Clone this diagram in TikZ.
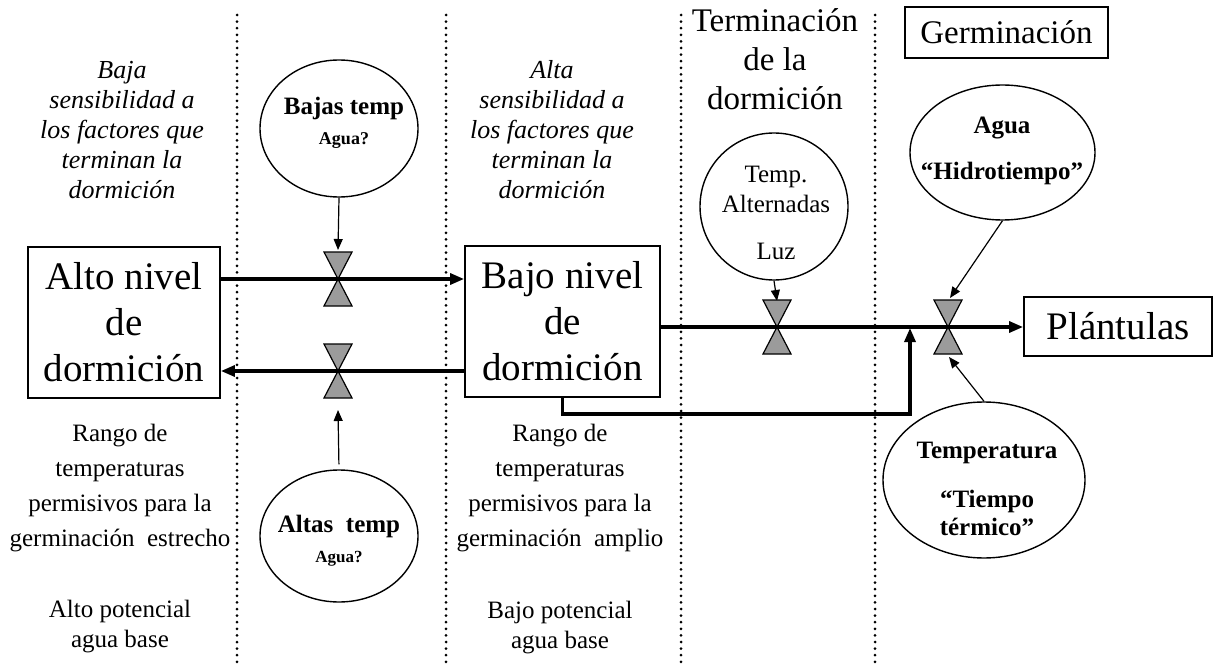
\documentclass[tikz,border=0pt]{standalone}
\usepackage{fontspec}
\setmainfont{Liberation Serif}
\usetikzlibrary{arrows.meta,shapes.geometric,calc}
\definecolor{valvegray}{RGB}{155,155,155}
\newcommand{\fsz}[2]{\fontsize{#1}{#2}\selectfont}
\begin{document}
\begin{tikzpicture}[x=1pt,y=-1pt,
  dotline/.style={line width=3pt, line cap=round, dash pattern=on 0pt off 6.6pt},
  statebox/.style={draw, line width=1.8pt, inner sep=0pt, align=center, font=\fsz{39}{46}},
  factor/.style={draw, ellipse, line width=1.4pt, inner sep=0pt},
  bigarrow/.style={line width=3.2pt, -{Triangle[length=14pt,width=11pt]}},
  smallarrow/.style={line width=1.2pt, -{Triangle[length=11pt,width=9pt]}},
  note/.style={align=center, anchor=base, inner sep=0pt},
  valve/.pic={\draw[fill=valvegray, line width=1.2pt] (-14,-27) -- (14,-27) -- (0,0) -- cycle (-14,27) -- (14,27) -- (0,0) -- cycle;}
]
\path[use as bounding box] (0,0) rectangle (1219,666);

% dotted separators
\draw[dotline] (237,15) -- (237,666);
\draw[dotline] (446,15) -- (446,666);
\draw[dotline] (681,15) -- (681,666);
\draw[dotline] (875,15) -- (875,666);

% boxes
\node[statebox, minimum width=192pt, minimum height=151pt] (alto) at (124,322.5) {Alto nivel\\de\\dormición};
\node[statebox, minimum width=195pt, minimum height=151pt] (bajo) at (562.5,321.5) {Bajo nivel\\de\\dormición};
\node[statebox, minimum width=188pt, minimum height=59pt] (plant) at (1118,326.5) {Plántulas};
\node[draw, line width=1.8pt, inner sep=0pt, minimum width=203pt, minimum height=51pt, font=\fsz{33}{39}] (germ) at (1006.5,32.5) {Germinación};

% factor ellipses
\node[factor, minimum width=158pt, minimum height=137pt] (bajas) at (339,128.5) {};
\node[factor, minimum width=158pt, minimum height=132pt] (altas) at (339,536) {};
\node[factor, minimum width=148pt, minimum height=147pt] (temp) at (774,206.5) {};
\node[factor, minimum width=185pt, minimum height=135pt] (agua) at (1002.5,152.5) {};
\node[factor, minimum width=202pt, minimum height=156pt] (temper) at (984,480) {};

% factor texts (anchored at the baseline of their last line)
\node[note, font=\fsz{25}{30}\bfseries] (bajastxt) at (344,145) {Bajas temp\\{\fsz{18}{30}Agua?}};
\node[note, font=\fsz{25}{30}\bfseries] (altastxt) at (339,562) {Altas\ \ temp\\{\fsz{17}{30}Agua?}};
\node[note, font=\fsz{25}{30}] (temptxt) at (776,259) {Temp.\\Alternadas\\[17pt]Luz};
\node[note, font=\fsz{25}{30}\bfseries] (aguatxt) at (1002,180) {Agua\\[17pt]“Hidrotiempo”};
\node[note, font=\fsz{25}{28}\bfseries] (tempertxt) at (987,535) {Temperatura\\[21pt]“Tiempo\\térmico”};

% notes (anchored at the baseline of their last line)
\node[note, font=\fsz{26}{30}\itshape] (bajasens) at (122,198) {Baja\\sensibilidad a\\los factores que\\terminan la\\dormición};
\node[note, font=\fsz{26}{30}\itshape] (altasens) at (552,198) {Alta\\sensibilidad a\\los factores que\\terminan la\\dormición};
\node[note, font=\fsz{33}{39}] (term) at (775,110) {Terminación\\de la\\dormición};
\node[note, font=\fsz{25}{34.7}] (rangoA) at (120,546) {Rango de\\temperaturas\\permisivos para la\\germinación\hspace{0.5em}estrecho};
\node[note, font=\fsz{25}{30}] (potA) at (120,647) {Alto potencial\\agua base};
\node[note, font=\fsz{25}{34.7}] (rangoB) at (560,546) {Rango de\\temperaturas\\permisivos para la\\germinación\hspace{0.5em}amplio};
\node[note, font=\fsz{25}{30}] (potB) at (560,648) {Bajo potencial\\agua base};

% valve positions
\coordinate (v1) at (338,279);
\coordinate (v2) at (338,371);
\coordinate (v3) at (777,327);
\coordinate (v4) at (948,327);
\coordinate (byp) at (910,328);

% main flows
\draw[bigarrow] (alto.east |- v1) -- (bajo.west |- v1);
\draw[bigarrow] (bajo.west |- v2) -- (alto.east |- v2);
\draw[bigarrow] (bajo.east |- v3) -- (plant.west |- v3);
\draw[bigarrow] (bajo.south) -- ++(0,16) -| (byp);

% factor arrows
\draw[smallarrow] (bajas.south) -- ($(v1)+(0,-29)$);
\draw[smallarrow, shorten <=5pt] (altas.north) -- ($(v2)+(0,39)$);
\draw[smallarrow] (temp.south) -- ($(v3)+(0,-26)$);
\draw[smallarrow] (agua.south) -- ($(v4)+(2,-29)$);
\draw[smallarrow] (temper.north) -- ($(v4)+(1,30)$);

% valves
\pic at (v1) {valve};
\pic at (v2) {valve};
\pic at (v3) {valve};
\pic at (v4) {valve};
\end{tikzpicture}
\end{document}
